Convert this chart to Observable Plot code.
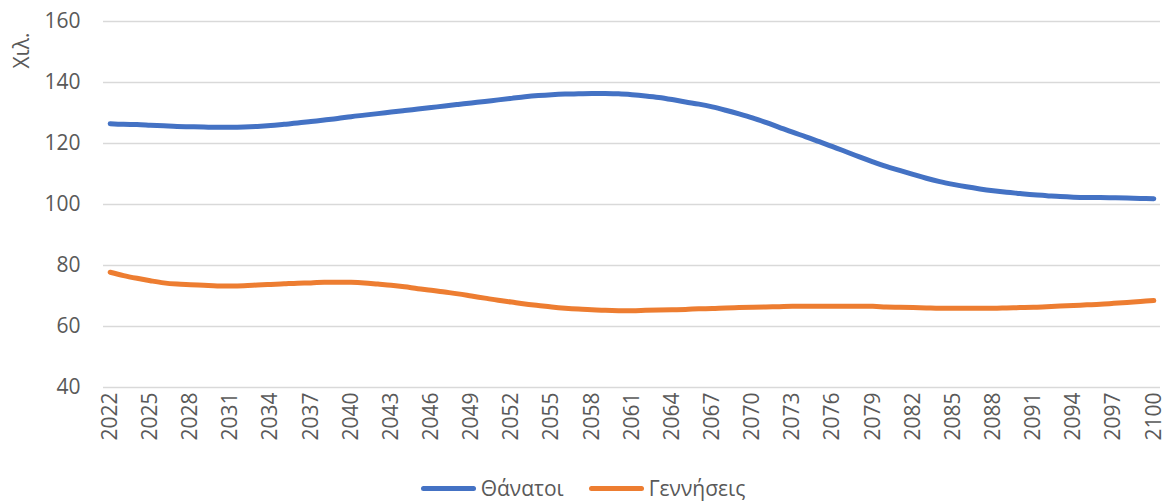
<!DOCTYPE html>
<html>
<head>
<meta charset="utf-8">
<script src="https://cdn.jsdelivr.net/npm/d3@7"></script>
<script src="https://cdn.jsdelivr.net/npm/@observablehq/plot@0.6"></script>
<style>
  html, body { margin: 0; padding: 0; background: #fff; }
  body { width: 1166px; height: 501px; overflow: hidden; font-family: "Open Sans", "Noto Sans", sans-serif; }
  #chart svg { display: block; }
  #legend { display: flex; justify-content: center; align-items: center; gap: 25px; margin-top: 21px; height: 24px; line-height: 24px; font-size: 21px; color: #595959; }
  .item { display: flex; align-items: center; }
  .sw { width: 55px; height: 5px; border-radius: 3px; margin-right: 5px; }
</style>
</head>
<body>
<div id="chart"></div>
<div id="legend"></div>
<script>
const years = d3.range(2022, 2101);
const seriesNames = ["Θάνατοι", "Γεννήσεις"];
const seriesColors = ["#4472C4", "#ED7D31"];
const yTicks = [40, 60, 80, 100, 120, 140, 160];
const xTicks = [2022,2025,2028,2031,2034,2037,2040,2043,2046,2049,2052,2055,2058,2061,2064,2067,2070,2073,2076,2079,2082,2085,2088,2091,2094,2097,2100];
const yLabel = "Χιλ.";

const deaths = [
  126.5,126.3,126.2,126.0,125.8,125.6,125.5,125.4,125.3,125.3,
  125.4,125.6,125.9,126.3,126.7,127.2,127.7,128.2,128.8,129.3,
  129.8,130.3,130.8,131.3,131.8,132.3,132.8,133.3,133.8,134.3,
  134.8,135.3,135.7,136.0,136.2,136.3,136.4,136.4,136.3,136.0,
  135.6,135.1,134.4,133.6,132.9,132.0,130.9,129.7,128.4,126.9,
  125.3,123.7,122.2,120.6,119.0,117.3,115.6,114.0,112.5,111.2,
  109.9,108.6,107.5,106.6,105.8,105.1,104.5,104.0,103.6,103.2,
  102.9,102.6,102.4,102.3,102.3,102.2,102.1,102.0,101.9
];
const births = [
  77.8,76.7,75.8,75.0,74.3,73.9,73.7,73.5,73.3,73.3,
  73.4,73.6,73.8,74.0,74.2,74.3,74.5,74.5,74.5,74.3,
  73.9,73.5,73.0,72.4,71.9,71.3,70.7,70.0,69.3,68.6,
  68.0,67.4,66.9,66.4,66.0,65.7,65.5,65.3,65.2,65.2,
  65.3,65.4,65.5,65.6,65.8,65.9,66.1,66.2,66.3,66.4,
  66.5,66.6,66.6,66.6,66.6,66.6,66.6,66.6,66.4,66.3,
  66.2,66.1,66.0,66.0,66.0,66.0,66.0,66.1,66.2,66.3,
  66.5,66.7,66.9,67.1,67.3,67.6,67.9,68.2,68.5
];

const data = [];
years.forEach((yr, i) => {
  data.push({year: yr, value: deaths[i], series: seriesNames[0]});
  data.push({year: yr, value: births[i], series: seriesNames[1]});
});

const chart = Plot.plot({
  width: 1166,
  height: 455,
  marginLeft: 103,
  marginRight: 6,
  marginTop: 21,
  marginBottom: 68,
  style: {fontFamily: "'Open Sans', 'Noto Sans', sans-serif", fontSize: "21px", color: "#595959", background: "#fff"},
  x: {domain: [2021.5, 2100.5], ticks: xTicks, tickFormat: d => String(d), tickRotate: -90, tickSize: 0, tickPadding: 5, label: null},
  y: {domain: [40, 160], ticks: yTicks, tickSize: 0, tickPadding: 23, label: null},
  color: {domain: seriesNames, range: seriesColors},
  marks: [
    Plot.gridY(yTicks, {stroke: "#d9d9d9", strokeOpacity: 1, strokeWidth: 1.5}),
    Plot.axisY({ticks: yTicks, tickSize: 0, tickPadding: 23, fontSize: 21}),
    Plot.axisX({ticks: xTicks, tickFormat: d => String(d), tickRotate: -90, tickSize: 0, tickPadding: 5, fontSize: 21}),
    Plot.line(data, {x: "year", y: "value", z: "series", stroke: "series", strokeWidth: 5, curve: "catmull-rom", strokeLinecap: "round"}),
    Plot.text([yLabel], {frameAnchor: "top-left", text: d => d, rotate: -90, textAnchor: "end", lineAnchor: "middle", dx: -81, dy: 11, fontSize: 21, fill: "#595959"})
  ]
});
document.getElementById("chart").appendChild(chart);

const legend = document.getElementById("legend");
seriesNames.forEach((n, i) => {
  const it = document.createElement("div");
  it.className = "item";
  const sw = document.createElement("span");
  sw.className = "sw";
  sw.style.background = seriesColors[i];
  const t = document.createElement("span");
  t.textContent = n;
  it.appendChild(sw); it.appendChild(t);
  legend.appendChild(it);
});
</script>
</body>
</html>
